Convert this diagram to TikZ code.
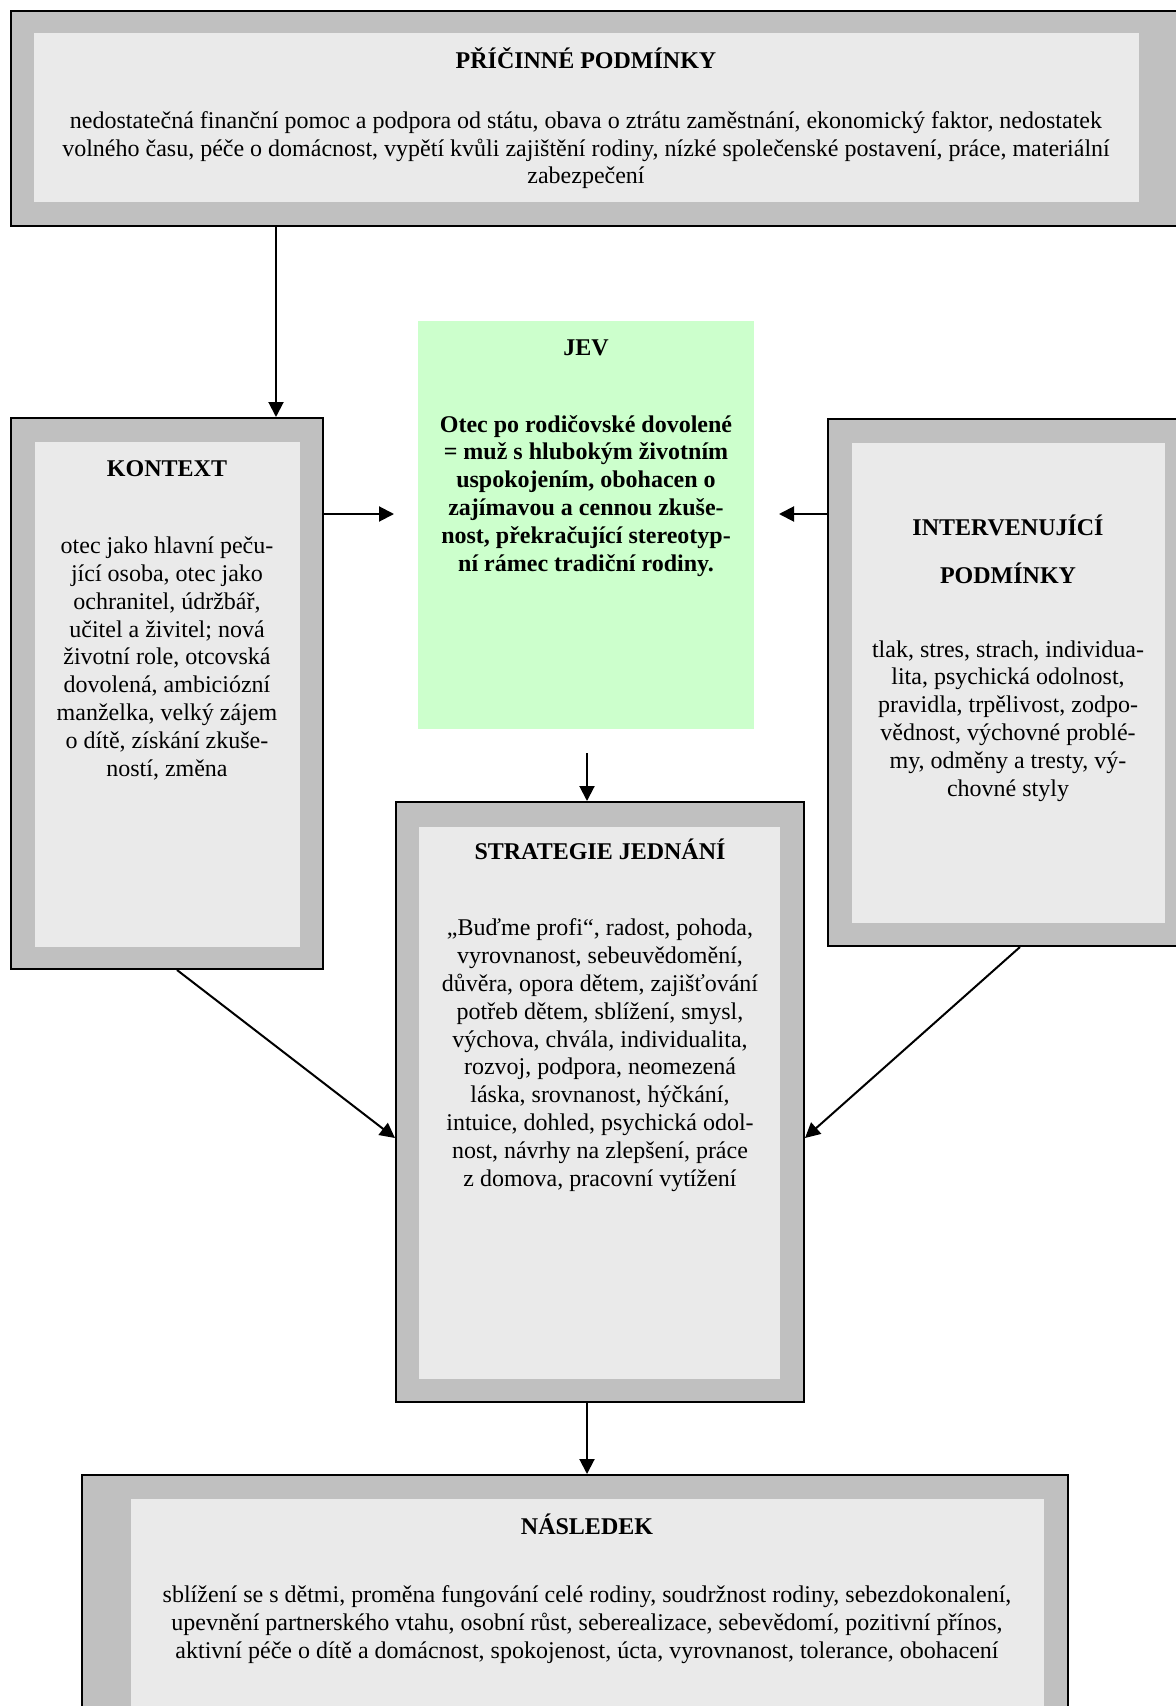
\documentclass[tikz,border=0pt]{standalone}
\usepackage{fontspec}
\setmainfont{Liberation Serif}
\usetikzlibrary{arrows.meta,fit}
\definecolor{framegray}{HTML}{C0C0C0}
\definecolor{panelgray}{HTML}{EAEAEA}
\definecolor{jevgreen}{HTML}{CCFFCC}
\begin{document}
\begin{tikzpicture}[x=0.5pt,y=-0.5pt,
  outerbox/.style={draw=black, line width=1pt, fill=framegray, inner sep=0pt},
  innerbox/.style={fill=panelgray, inner sep=0pt},
  greenbox/.style={fill=jevgreen, inner sep=0pt},
  ttl/.style={font=\bfseries\fontsize{12pt}{13.9pt}\selectfont, align=center, inner sep=0pt, anchor=base},
  bodytext/.style={font=\fontsize{12pt}{13.9pt}\selectfont, align=center, inner sep=0pt, anchor=base},
  arr/.style={-{Triangle[length=7.5pt,width=7.5pt]}, line width=1pt}]
\useasboundingbox (0,0) rectangle (1176,1706);
\clip (0,0) rectangle (1176,1706);

% boxes
\node[outerbox, fit={(11,11) (1186,226)}] (pric) {};
\node[innerbox, fit={(34,33) (1139,202)}] (pricin) {};

\node[outerbox, fit={(11,418) (323,969)}] (kontext) {};
\node[innerbox, fit={(35,442) (300,947)}] (kontextin) {};

\node[greenbox, fit={(418,321) (754,729)}] (jev) {};

\node[outerbox, fit={(828,419) (1190,946)}] (interv) {};
\node[innerbox, fit={(852,443) (1165,923)}] (intervin) {};

\node[outerbox, fit={(396,802) (804,1402)}] (strat) {};
\node[innerbox, fit={(419,827) (780,1379)}] (stratin) {};

\node[outerbox, fit={(82,1475) (1068,1740)}] (nasl) {};
\node[innerbox, fit={(131,1499) (1044,1730)}] (naslin) {};

% texts (anchor=base of a multi-line node = baseline of its last line)
\node[ttl] (prictitle) at (586,69) {PŘÍČINNÉ PODMÍNKY};
\node[bodytext] (pricbody) at (586,184) {nedostatečná finanční pomoc a podpora od státu, obava o ztrátu zaměstnání, ekonomický faktor, nedostatek\\volného času, péče o domácnost, vypětí kvůli zajištění rodiny, nízké společenské postavení, práce, materiální\\zabezpečení};

\node[ttl] (kontexttitle) at (167,476) {KONTEXT};
\node[bodytext] (kontextbody) at (167,776) {otec jako hlavní peču-\\jící osoba, otec jako\\ochranitel, údržbář,\\učitel a živitel; nová\\životní role, otcovská\\dovolená, ambiciózní\\manželka, velký zájem\\o dítě, získání zkuše-\\ností, změna};

\node[ttl] (jevtitle) at (586,356) {JEV};
\node[ttl] (jevbody) at (586,571) {Otec po rodičovské dovolené\\= muž s hlubokým životním\\uspokojením, obohacen o\\zajímavou a cennou zkuše-\\nost, překračující stereotyp-\\ní rámec tradiční rodiny.};

\node[ttl, font=\bfseries\fontsize{12pt}{24pt}\selectfont] (intervtitle) at (1008,583) {INTERVENUJÍCÍ\\PODMÍNKY};
\node[bodytext] (intervbody) at (1008,796) {tlak, stres, strach, individua-\\lita, psychická odolnost,\\pravidla, trpělivost, zodpo-\\vědnost, výchovné problé-\\my, odměny a tresty, vý-\\chovné styly};

\node[ttl] (strattitle) at (600,859) {STRATEGIE JEDNÁNÍ};
\node[bodytext] (stratbody) at (600,1186) {„Buďme profi“, radost, pohoda,\\vyrovnanost, sebeuvědomění,\\důvěra, opora dětem, zajišťování\\potřeb dětem, sblížení, smysl,\\výchova, chvála, individualita,\\rozvoj, podpora, neomezená\\láska, srovnanost, hýčkání,\\intuice, dohled, psychická odol-\\nost, návrhy na zlepšení, práce\\z domova, pracovní vytížení};

\node[ttl] (nasltitle) at (587,1534) {NÁSLEDEK};
\node[bodytext] (naslbody) at (587,1658) {sblížení se s dětmi, proměna fungování celé rodiny, soudržnost rodiny, sebezdokonalení,\\upevnění partnerského vtahu, osobní růst, seberealizace, sebevědomí, pozitivní přínos,\\aktivní péče o dítě a domácnost, spokojenost, úcta, vyrovnanost, tolerance, obohacení};

% connector reference points
\coordinate (xa) at (276,0);
\coordinate (ya) at (0,514);
\coordinate (xb) at (587,0);
\coordinate (xk) at (177,0);
\coordinate (xi) at (1020,0);
\coordinate (ys) at (0,1138);
\coordinate (jevtip) at (394,514);
\coordinate (jevtipr) at (779,514);
\coordinate (jevout) at (587,753);

% connectors
\draw[arr] (pric.south -| xa) -- (kontext.north -| xa);
\draw[arr] (kontext.east |- ya) -- (jevtip);
\draw[arr] (interv.west |- ya) -- (jevtipr);
\draw[arr] (jevout) -- (strat.north -| xb);
\draw[arr] (kontext.south -| xk) -- (strat.west |- ys);
\draw[arr] (interv.south -| xi) -- (strat.east |- ys);
\draw[arr] (strat.south -| xb) -- (nasl.north -| xb);
\end{tikzpicture}
\end{document}
